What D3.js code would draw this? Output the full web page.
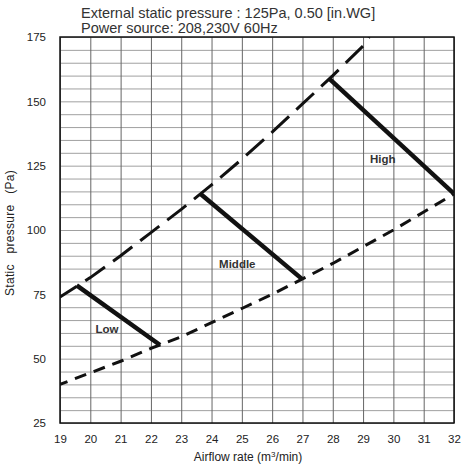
<!DOCTYPE html>
<html><head><meta charset="utf-8">
<script src="https://cdn.jsdelivr.net/npm/d3@7"></script>
<style>body{margin:0;background:#fff}svg{display:block;font-family:Arial,"Liberation Sans",sans-serif}</style>
</head><body>
<svg id="c" width="463" height="466"></svg>
<script>
// ---- data ----
const titleLines = ["External static pressure : 125Pa, 0.50 [in.WG]", "Power source: 208,230V 60Hz"];
const xTicks = [19,20,21,22,23,24,25,26,27,28,29,30,31,32];
const yTicks = [25,50,75,100,125,150,175];
const yGrid = d3.range(25, 176, 5);
// upper system curve (long dashes)
const upperX = [19, 20, 21, 22, 23, 24, 25, 26, 27, 28, 29, 29.2];
const upperY = [74, 81.5, 90, 99, 108, 117.5, 127.5, 138, 149, 160, 171.5, 175];
// lower system curve (short dashes)
const lowerX = [19, 20, 21, 22, 23, 24, 25, 26, 27, 28, 29, 30, 31, 32];
const lowerY = [40, 44.5, 49, 54, 58.5, 64, 69.5, 75, 81, 87, 93.5, 100, 107, 114];
// fan speed lines
const speedNames = ["Low", "Middle", "High"];
const speedX = [[19.55, 22.3], [23.64, 26.98], [27.9, 31.98]];
const speedY = [[78.5, 55.3], [114, 81], [158.6, 114.3]];
const labelX = [20.55, 24.85, 29.65];
const labelY = [60, 85.2, 126.2];

const svg = d3.select("#c");
const L = 60, R = 454, T = 37, B = 423;
const x = d3.scaleLinear().domain([19, 32]).range([L, R]);
const y = d3.scaleLinear().domain([25, 175]).range([B, T]);

// title
svg.selectAll("text.title").data(titleLines).join("text")
  .attr("x", 81).attr("y", (d,i) => 18 + i*14.5)
  .attr("font-size", 14.5).attr("fill", "#333").text(d => d);

// grid
svg.append("g").selectAll("line").data(yGrid).join("line")
  .attr("x1", L).attr("x2", R).attr("y1", d => y(d)+0.5).attr("y2", d => y(d)+0.5)
  .attr("stroke", "#a0a0a0").attr("stroke-width", 1);
svg.append("g").selectAll("line").data(xTicks).join("line")
  .attr("y1", T).attr("y2", B).attr("x1", d => x(d)+0.5).attr("x2", d => x(d)+0.5)
  .attr("stroke", "#666").attr("stroke-width", 1);

// frame
svg.append("rect").attr("x", L).attr("y", T).attr("width", R-L).attr("height", B-T)
  .attr("fill", "none").attr("stroke", "#111").attr("stroke-width", 1.5);

// axes labels
const xAxis = d3.axisBottom(x).tickValues(xTicks).tickSize(0).tickPadding(0).tickFormat(d3.format("d"));
const gx = svg.append("g").attr("transform", `translate(0,${B})`).call(xAxis);
gx.select(".domain").remove();
gx.selectAll("text").attr("y", 20).attr("dy", 0).attr("font-size", 11.5).attr("font-family", "Arial, 'Liberation Sans', sans-serif").attr("fill", "#222");
const yAxis = d3.axisLeft(y).tickValues(yTicks).tickSize(0).tickPadding(14).tickFormat(d3.format("d"));
const gy = svg.append("g").attr("transform", `translate(${L},0)`).call(yAxis);
gy.select(".domain").remove();
gy.selectAll("text").attr("font-size", 11.5).attr("font-family", "Arial, 'Liberation Sans', sans-serif").attr("fill", "#222");

svg.append("text").attr("x", 248).attr("y", 461).attr("text-anchor", "middle")
  .attr("font-size", 12).attr("fill", "#222")
  .html('Airflow rate (m<tspan font-size="8" dy="-4">3</tspan><tspan dy="4">/min)</tspan>');
svg.append("text").attr("transform", "translate(14,233) rotate(-90)").attr("text-anchor", "middle")
  .attr("font-size", 12).attr("fill", "#222").style("word-spacing", "7px").style("letter-spacing", "0.3px")
  .text("Static pressure (Pa)");

// curves
const line = d3.line().x(d => x(d[0])).y(d => y(d[1]));
svg.append("defs").append("clipPath").attr("id", "clip")
  .append("rect").attr("x", L).attr("y", T).attr("width", R-L).attr("height", B-T);
const plot = svg.append("g").attr("clip-path", "url(#clip)");
plot.append("path").datum(upperX.map((v,i) => [v, upperY[i]])).attr("d", line)
  .attr("fill", "none").attr("stroke", "#111").attr("stroke-width", 3)
  .attr("stroke-dasharray", "24,10").attr("stroke-dashoffset", 4);
plot.append("path").datum(lowerX.map((v,i) => [v, lowerY[i]])).attr("d", line)
  .attr("fill", "none").attr("stroke", "#111").attr("stroke-width", 3)
  .attr("stroke-dasharray", "12,8").attr("stroke-dashoffset", 4);
plot.selectAll("path.speed").data(speedNames).join("path").attr("class", "speed")
  .attr("d", (d,i) => line(speedX[i].map((v,j) => [v, speedY[i][j]])))
  .attr("fill", "none").attr("stroke", "#111").attr("stroke-width", 4.5);

svg.selectAll("text.lbl").data(speedNames).join("text").attr("class", "lbl")
  .attr("x", (d,i) => x(labelX[i])).attr("y", (d,i) => y(labelY[i])).attr("text-anchor", "middle")
  .attr("font-size", 11.5).attr("font-weight", "bold").attr("fill", "#333").text(d => d);
</script>
</body></html>
